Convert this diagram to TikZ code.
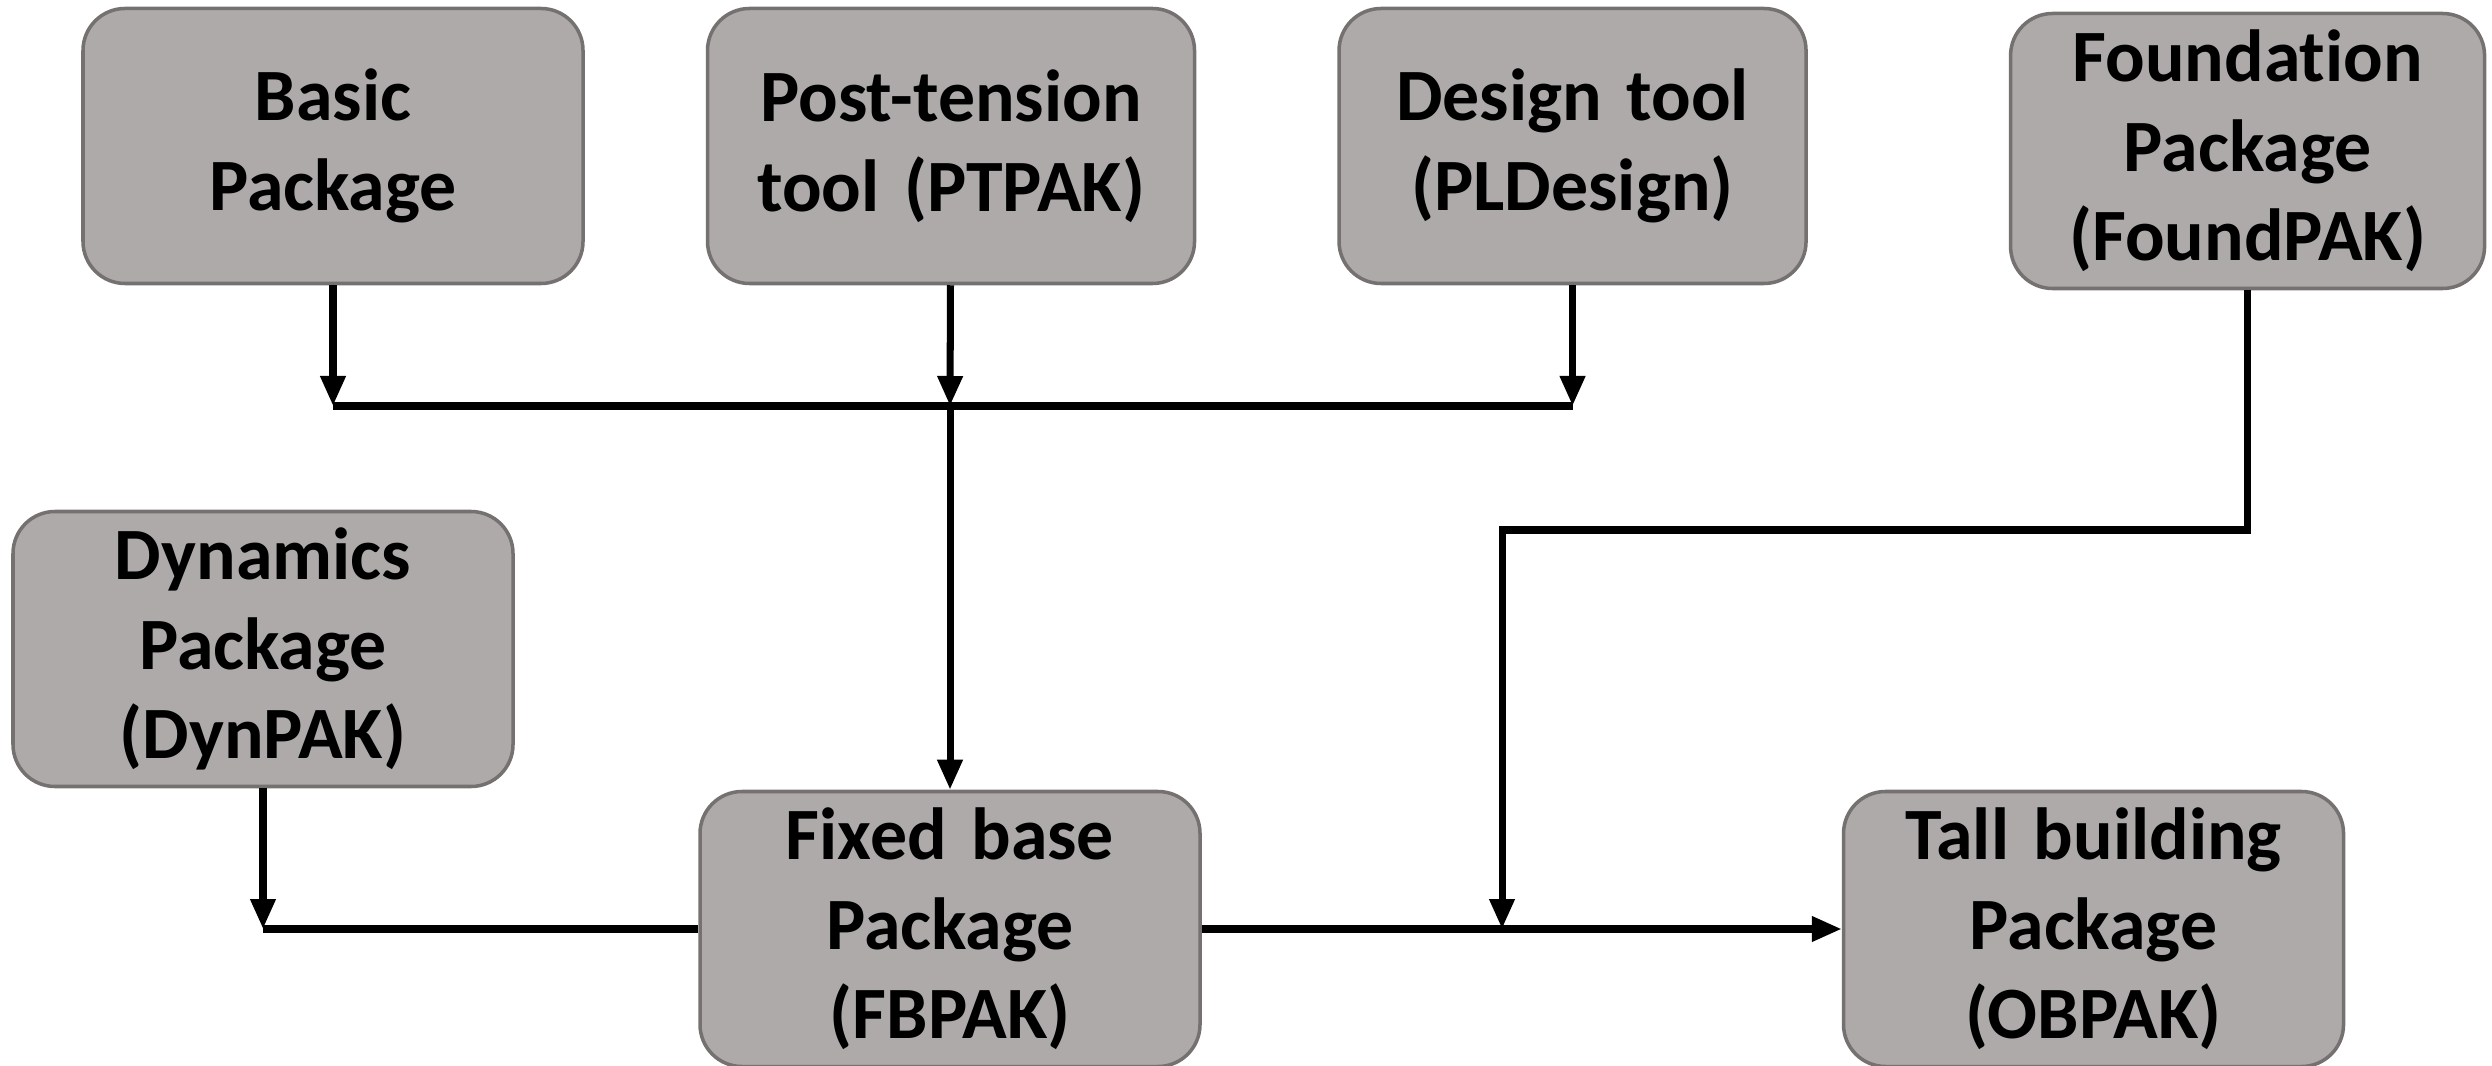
\documentclass[tikz,border=0pt]{standalone}
\usepackage{fontspec}
\setmainfont{Carlito}[Ligatures=NoCommon]
\usepackage{xcolor}
\usepackage{tikz}
\usetikzlibrary{arrows.meta, positioning, calc}
\definecolor{pakgray}{HTML}{AEAAAA}
\definecolor{pakedge}{HTML}{767171}

\begin{document}
\begin{tikzpicture}[
    node distance=1.21cm,
    block/.style={rectangle, draw=pakedge, line width=1pt, fill=pakgray, text width=4.6cm, align=center, rounded corners=0.42cm, minimum width=5cm, minimum height=2.75cm, inner sep=0pt, font=\fontsize{21pt}{25.5pt}\selectfont\bfseries},
    line/.style={draw, -{Triangle[length=0.3cm,width=0.24cm]}, line width=2pt},
    wire/.style={draw, line width=2pt}
]
    \useasboundingbox (0,0) rectangle (24.92,-10.66);

    % Nodes
    \node [block] (basic) at (3.33,-1.46) {Basic\\Package};
    \node [block, right=of basic, minimum width=4.87cm] (ptool) {Post-tension\\tool (PTPAK)};
    \node [block, right=1.41cm of ptool, minimum width=4.67cm] (design) {Design tool\\(PLDesign)};
    \node [block, right=2.01cm of design, minimum width=4.74cm, yshift=-0.05cm] (found) {Foundation\\Package\\(FoundPAK)};
    \node [block] (dyn) at (2.63,-6.49) {Dynamics\\Package\\(DynPAK)};
    \node [block] (fixed) at (9.50,-9.29) {Fixed base\\Package\\(FBPAK)};
    \node [block, right=6.4cm of fixed] (tall) {Tall building\\Package\\(OBPAK)};

    \coordinate (merge) at (9.50,-4.06);
    \coordinate (bend) at (15.02,-5.30);

    % Paths
    \path [line] (basic) -- (basic |- merge);
    \path [line] (ptool) -- (merge);
    \path [line] (design) -- (design |- merge);
    \path [wire] (basic |- merge) -- (design |- merge);
    \path [line] (merge) -- (fixed);
    \path [line] (found) -- (found |- bend) -- (bend) -- (bend |- fixed);
    \path [line] (dyn) -- (dyn |- fixed);
    \path [wire] (dyn |- fixed) -- (fixed);
    \path [line] (fixed) -- (tall);
\end{tikzpicture}
\end{document}
